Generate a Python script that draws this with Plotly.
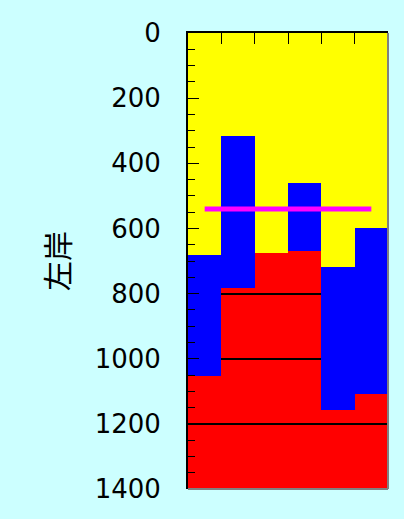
import plotly.graph_objects as go

# Data (depth values, y axis reversed)
columns = [0, 1, 2, 3, 4, 5]
blue_top = [682, 317, 675, 462, 719, 600]     # bottom of yellow / top of blue
red_top = [1054, 783, 675, 669, 1157, 1108]   # bottom of blue / top of red
depth_max = 1400
line_level = 540
line_x = [0, 5]
grid_values = [200, 400, 600, 800, 1000, 1200]
y_ticks = [0, 200, 400, 600, 800, 1000, 1200, 1400]
col_bounds = [-0.5, 0.5, 1.5, 2.5, 3.5, 4.5, 5.5]
y_title = "左岸"

grid_thickness = 3.0  # in data units (~1px)

fig = go.Figure()

# red layer
fig.add_trace(go.Bar(x=columns, base=red_top,
                     y=[depth_max - r for r in red_top],
                     marker=dict(color="#ff0000", line=dict(width=0)),
                     width=1, showlegend=False, hoverinfo="skip"))
# gridlines (drawn over red, under yellow/blue) as thin full-width bars
for g in grid_values:
    fig.add_trace(go.Bar(x=columns, base=[g - grid_thickness / 2] * len(columns),
                         y=[grid_thickness] * len(columns),
                         marker=dict(color="#000000", line=dict(width=0)),
                         width=1, showlegend=False, hoverinfo="skip"))
# yellow layer
fig.add_trace(go.Bar(x=columns, base=[0] * len(columns), y=blue_top,
                     marker=dict(color="#ffff00", line=dict(width=0)),
                     width=1, showlegend=False, hoverinfo="skip"))
# blue layer
fig.add_trace(go.Bar(x=columns, base=blue_top,
                     y=[r - b for r, b in zip(red_top, blue_top)],
                     marker=dict(color="#0000ff", line=dict(width=0)),
                     width=1, showlegend=False, hoverinfo="skip"))
# magenta line
fig.add_trace(go.Scatter(x=line_x, y=[line_level, line_level], mode="lines",
                         line=dict(color="#ff00ff", width=5),
                         showlegend=False, hoverinfo="skip"))

fig.update_layout(
    width=404, height=519,
    margin=dict(l=188, r=16, t=33, b=30),
    paper_bgcolor="#ccffff", plot_bgcolor="#ffff00",
    barmode="overlay", bargap=0,
    font=dict(family="DejaVu Sans", color="#000000"),
)
fig.update_xaxes(range=[col_bounds[0], col_bounds[-1]], side="top", automargin=False,
                 tickmode="array", tickvals=col_bounds, showticklabels=False,
                 ticks="inside", ticklen=11, tickcolor="#000000", tickwidth=1,
                 showline=True, linecolor="#000000", linewidth=2,
                 showgrid=False, zeroline=False)
fig.update_yaxes(range=[depth_max, 0], tickmode="array", tickvals=y_ticks, automargin=False,
                 ticktext=[str(v) for v in y_ticks],
                 ticks="inside", ticklen=11, tickcolor="#000000", tickwidth=1,
                 minor=dict(dtick=50, ticks="inside", ticklen=7, tickcolor="#000000", showgrid=False),
                 tickfont=dict(size=26, family="DejaVu Sans"),
                 ticklabelstandoff=20,
                 showline=True, linecolor="#000000", linewidth=2,
                 showgrid=False, zeroline=False,
                 title=dict(text=y_title, font=dict(size=30, family="Noto Sans CJK JP"), standoff=16))

# right and bottom frame edges (gray)
fig.add_shape(type="line", xref="paper", yref="paper", x0=1, x1=1, y0=0, y1=1,
              line=dict(color="#808080", width=2))
fig.add_shape(type="line", xref="paper", yref="paper", x0=0, x1=1, y0=0, y1=0,
              line=dict(color="#808080", width=2))

fig.write_html("out.html",
               config={"displayModeBar": False},
               post_script="document.body.style.margin='0';"
                           "document.body.style.background='#ccffff';")
